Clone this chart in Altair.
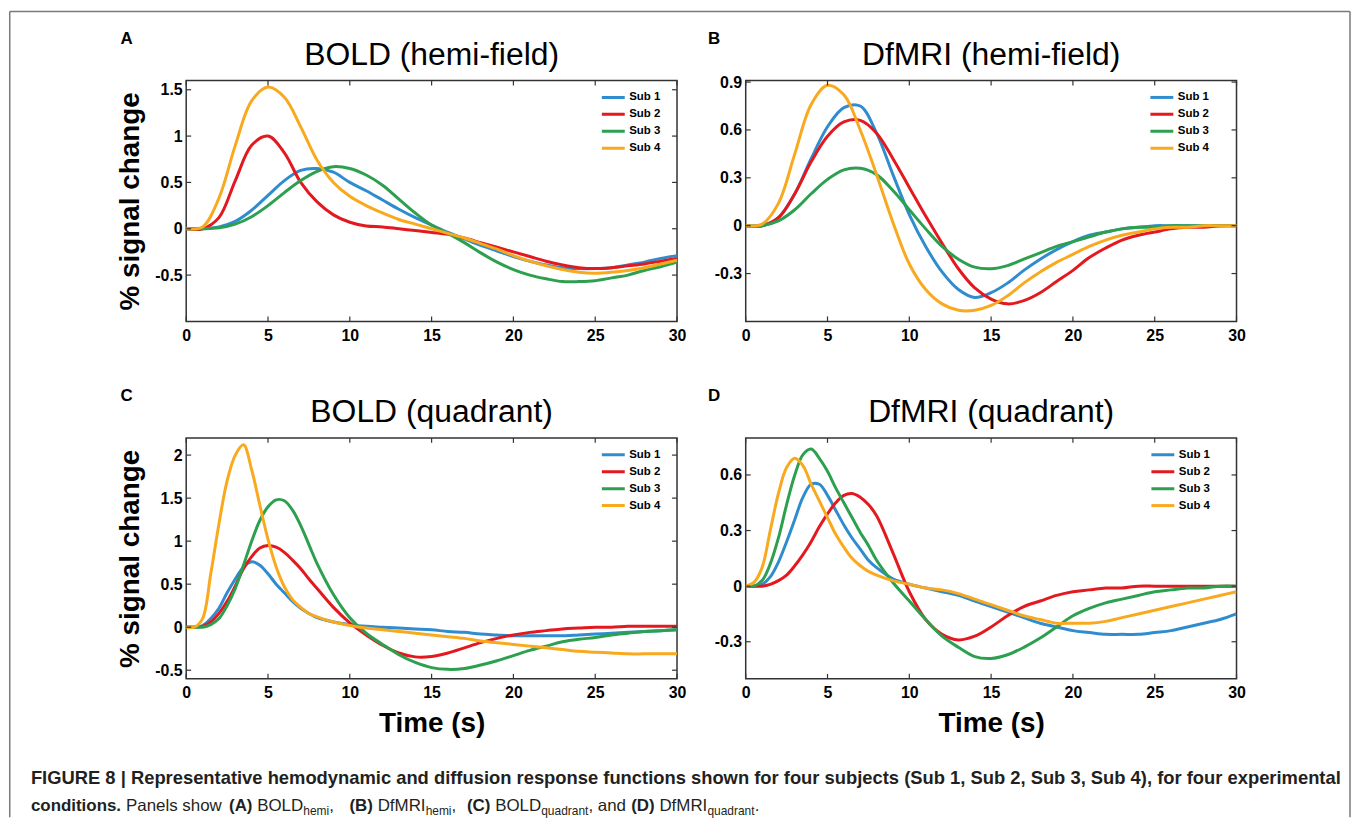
import altair as alt
import pandas as pd

# ---------------- data ----------------
SUBJECTS = ["Sub 1", "Sub 2", "Sub 3", "Sub 4"]
COLORS = ["#2f8ccf", "#e3191f", "#2ca04f", "#f9a91e"]

XTICKS = [0, 5, 10, 15, 20, 25, 30]

T_HEMI = list(range(0, 31))
T_QUAD = [0, 0.5, 1, 1.5, 2, 2.5, 3, 3.5, 4, 4.5, 5, 5.5, 6, 6.5, 7, 7.5, 8] + list(range(9, 31))

BOLD_HEMI_S1 = [0, 0, 0.02, 0.08, 0.2, 0.36, 0.52, 0.63, 0.65, 0.61, 0.5, 0.41, 0.31, 0.21, 0.12, 0.04,
                -0.04, -0.11, -0.18, -0.24, -0.3, -0.35, -0.39, -0.42, -0.43, -0.43, -0.42, -0.39, -0.36, -0.32, -0.29]
BOLD_HEMI_S2 = [0, 0, 0.12, 0.52, 0.9, 1.0, 0.82, 0.5, 0.29, 0.15, 0.07, 0.03, 0.02, 0.0, -0.02, -0.04,
                -0.06, -0.1, -0.15, -0.2, -0.25, -0.3, -0.35, -0.39, -0.42, -0.43, -0.42, -0.4, -0.38, -0.35, -0.32]
BOLD_HEMI_S3 = [0, 0, 0.01, 0.05, 0.13, 0.25, 0.39, 0.52, 0.62, 0.67, 0.65, 0.58, 0.47, 0.32, 0.17, 0.04,
                -0.05, -0.15, -0.26, -0.36, -0.44, -0.5, -0.54, -0.57, -0.57, -0.56, -0.53, -0.5, -0.45, -0.41, -0.36]
BOLD_HEMI_S4 = [0, 0.02, 0.33, 0.9, 1.38, 1.53, 1.42, 1.1, 0.74, 0.5, 0.35, 0.25, 0.17, 0.1, 0.05, 0.0,
                -0.05, -0.1, -0.16, -0.22, -0.29, -0.35, -0.4, -0.44, -0.47, -0.48, -0.47, -0.45, -0.42, -0.38, -0.34]

DFMRI_HEMI_S1 = [0, 0, 0.05, 0.2, 0.42, 0.62, 0.74, 0.75, 0.58, 0.32, 0.07, -0.13, -0.29, -0.4, -0.45, -0.42,
                 -0.36, -0.28, -0.21, -0.15, -0.1, -0.06, -0.04, -0.02, -0.01, 0, 0, 0, 0, 0, 0]
DFMRI_HEMI_S2 = [0, 0, 0.05, 0.2, 0.4, 0.56, 0.65, 0.66, 0.58, 0.42, 0.24, 0.06, -0.11, -0.27, -0.39, -0.46,
                 -0.49, -0.47, -0.42, -0.35, -0.28, -0.2, -0.14, -0.09, -0.06, -0.04, -0.02, -0.01, -0.01, 0, 0]
DFMRI_HEMI_S3 = [0, 0, 0.03, 0.1, 0.2, 0.29, 0.35, 0.36, 0.32, 0.22, 0.1, -0.02, -0.13, -0.21, -0.26, -0.27,
                 -0.25, -0.21, -0.17, -0.13, -0.1, -0.07, -0.04, -0.02, -0.01, -0.01, 0, 0, 0, 0, 0]
DFMRI_HEMI_S4 = [0, 0.01, 0.14, 0.45, 0.76, 0.88, 0.82, 0.6, 0.32, 0.02, -0.24, -0.4, -0.49, -0.53, -0.53, -0.5,
                 -0.44, -0.36, -0.29, -0.23, -0.18, -0.13, -0.09, -0.06, -0.04, -0.02, -0.01, -0.01, 0, 0, 0]

BOLD_QUAD_S1 = [0, 0, 0.02, 0.1, 0.22, 0.4, 0.56, 0.7, 0.76, 0.72, 0.62, 0.5, 0.4, 0.3, 0.22, 0.16, 0.11,
                0.06, 0.03, 0.01, 0.0, -0.01, -0.02, -0.03, -0.05, -0.06, -0.08, -0.09, -0.1, -0.1, -0.1, -0.1,
                -0.09, -0.08, -0.07, -0.06, -0.05, -0.04, -0.03]
BOLD_QUAD_S2 = [0, 0, 0.01, 0.06, 0.16, 0.3, 0.48, 0.68, 0.82, 0.92, 0.95, 0.93, 0.87, 0.78, 0.68, 0.56, 0.45,
                0.23, 0.05, -0.09, -0.21, -0.3, -0.345, -0.34, -0.3, -0.24, -0.18, -0.13, -0.09, -0.06, -0.04,
                -0.02, -0.01, 0, 0, 0.01, 0.01, 0.01, 0.01]
BOLD_QUAD_S3 = [0, 0, 0, 0.03, 0.1, 0.25, 0.45, 0.72, 1.0, 1.24, 1.4, 1.48, 1.47, 1.36, 1.18, 0.96, 0.74,
                0.38, 0.11, -0.07, -0.2, -0.32, -0.41, -0.47, -0.49, -0.48, -0.44, -0.39, -0.33, -0.27, -0.22,
                -0.17, -0.14, -0.12, -0.09, -0.07, -0.05, -0.04, -0.03]
BOLD_QUAD_S4 = [0, 0, 0.1, 0.62, 1.2, 1.7, 2.0, 2.12, 1.83, 1.42, 1.02, 0.7, 0.47, 0.32, 0.23, 0.16, 0.12,
                0.06, 0.02, -0.01, -0.03, -0.05, -0.07, -0.09, -0.11, -0.13, -0.16, -0.18, -0.2, -0.22, -0.24,
                -0.26, -0.28, -0.29, -0.3, -0.31, -0.31, -0.31, -0.31]

DFMRI_QUAD_S1 = [0, 0, 0.01, 0.05, 0.13, 0.24, 0.36, 0.48, 0.55, 0.55, 0.49, 0.41, 0.33, 0.26, 0.2, 0.14, 0.1,
                 0.04, 0.01, -0.01, -0.03, -0.05, -0.08, -0.11, -0.14, -0.17, -0.2, -0.22, -0.24, -0.25, -0.26,
                 -0.26, -0.26, -0.25, -0.24, -0.22, -0.2, -0.18, -0.15]
DFMRI_QUAD_S2 = [0, 0, 0, 0.01, 0.03, 0.06, 0.11, 0.17, 0.24, 0.32, 0.39, 0.45, 0.49, 0.5, 0.48, 0.44, 0.38,
                 0.18, -0.03, -0.18, -0.26, -0.29, -0.27, -0.22, -0.16, -0.11, -0.08, -0.05, -0.03, -0.02, -0.01,
                 -0.01, 0, 0, 0, 0, 0, 0, 0]
DFMRI_QUAD_S3 = [0, 0, 0.03, 0.12, 0.26, 0.44, 0.6, 0.71, 0.74, 0.69, 0.62, 0.53, 0.45, 0.37, 0.29, 0.22, 0.14,
                 0.02, -0.08, -0.18, -0.27, -0.33, -0.38, -0.39, -0.37, -0.33, -0.28, -0.22, -0.16, -0.12, -0.09,
                 -0.07, -0.05, -0.03, -0.02, -0.01, -0.01, 0, 0]
DFMRI_QUAD_S4 = [0, 0.02, 0.1, 0.3, 0.5, 0.64, 0.69, 0.65, 0.55, 0.46, 0.37, 0.28, 0.21, 0.15, 0.11, 0.08, 0.06,
                 0.03, 0.01, -0.01, -0.02, -0.04, -0.07, -0.1, -0.13, -0.16, -0.18, -0.2, -0.2, -0.2, -0.19,
                 -0.17, -0.15, -0.13, -0.11, -0.09, -0.07, -0.05, -0.03]

YTICKS_A = [-0.5, 0, 0.5, 1, 1.5]
YTICKS_B = [-0.3, 0, 0.3, 0.6, 0.9]
YTICKS_C = [-0.5, 0, 0.5, 1, 1.5, 2]
YTICKS_D = [-0.3, 0, 0.3, 0.6]

# ---------------- styling ----------------
FONT = "Liberation Sans"
AXIS_COLOR = "#333333"
W, H = 493, 242


def long_df(times, series):
    rows = []
    for name, vals in zip(SUBJECTS, series):
        for t, v in zip(times, vals):
            rows.append({"t": t, "v": v, "subject": name})
    return pd.DataFrame(rows)


def text_layer(txt, x, y, size, weight="normal", align="left", color="#000000"):
    return alt.Chart(pd.DataFrame({"s": [txt]})).mark_text(
        font=FONT, fontSize=size, fontWeight=weight, align=align, baseline="alphabetic", color=color
    ).encode(text="s:N", x=alt.value(x), y=alt.value(y))


def panel(title, letter, times, series, ydomain, yticks, show_ytitle, show_xtitle, legend_x, extra_layers=()):
    df = long_df(times, series)

    xaxis_kw = dict(values=XTICKS, domain=False, ticks=False, tickSize=0, grid=False,
                    labelFont=FONT, labelFontSize=16, labelFontWeight="bold", labelColor="#000000",
                    labelPadding=6, labelFlush=False, labelOverlap=False, labelExpr="datum.value + ''")
    if show_xtitle:
        xaxis_kw.update(title="Time (s)", titleFont=FONT, titleFontSize=28, titleFontWeight="bold",
                        titleColor="#000000", titleY=53, titleBaseline="alphabetic")
    else:
        xaxis_kw.update(title=None)

    yaxis_kw = dict(values=yticks, domain=False, ticks=False, tickSize=0, grid=False,
                    labelFont=FONT, labelFontSize=16, labelFontWeight="bold", labelColor="#000000",
                    labelPadding=4, labelFlush=False, labelOverlap=False, labelExpr="datum.value + ''")
    if show_ytitle:
        yaxis_kw.update(title="% signal change", titleFont=FONT, titleFontSize=28, titleFontWeight="bold",
                        titleColor="#000000", titleAngle=270, titleX=-48, titleY=H / 2,
                        titleBaseline="alphabetic", titleAlign="center")
    else:
        yaxis_kw.update(title=None)

    x_enc = alt.X("t:Q", scale=alt.Scale(domain=[0, 30], nice=False, zero=False), axis=alt.Axis(**xaxis_kw))
    y_enc = alt.Y("v:Q", scale=alt.Scale(domain=ydomain, nice=False, zero=False), axis=alt.Axis(**yaxis_kw))

    lines = alt.Chart(df).mark_line(strokeWidth=3, interpolate="catmull-rom", clip=True).encode(
        x=x_enc,
        y=y_enc,
        color=alt.Color(
            "subject:N",
            scale=alt.Scale(domain=SUBJECTS, range=COLORS),
            legend=alt.Legend(title=None, orient="none", legendX=legend_x, legendY=10.5,
                              symbolType="stroke", symbolStrokeWidth=3, symbolSize=529,
                              labelFont=FONT, labelFontSize=11.5, labelFontWeight="bold",
                              labelColor="#000000", labelOffset=3, rowPadding=4, padding=0,
                              clipHeight=13, symbolOffset=0),
        ),
    )

    xt = pd.DataFrame({"t": XTICKS})
    yt = pd.DataFrame({"v": yticks})
    tick_style = dict(color=AXIS_COLOR, strokeWidth=1.2)
    bottom_ticks = alt.Chart(xt).mark_rule(**tick_style).encode(x=x_enc, y=alt.value(H), y2=alt.value(H - 5))
    top_ticks = alt.Chart(xt).mark_rule(**tick_style).encode(x=x_enc, y=alt.value(0), y2=alt.value(5))
    left_ticks = alt.Chart(yt).mark_rule(**tick_style).encode(y=y_enc, x=alt.value(0), x2=alt.value(5))
    right_ticks = alt.Chart(yt).mark_rule(**tick_style).encode(y=y_enc, x=alt.value(W), x2=alt.value(W - 5))

    letter_mark = text_layer(letter, -66 if letter in "AC" else -38, -37, 17, "bold")
    title_mark = text_layer(title, W / 2, -16, 32, "normal", "center")

    layers = [lines, bottom_ticks, top_ticks, left_ticks, right_ticks, letter_mark, title_mark] + list(extra_layers)
    return alt.layer(*layers).properties(width=W, height=H)


# ---------------- figure frame (drawn in panel A coordinates) ----------------
one = pd.DataFrame({"k": [0]})
FRAME_COLOR = "#7a7a7a"
frame_left = alt.Chart(one).mark_rule(color=FRAME_COLOR, strokeWidth=1.5).encode(
    x=alt.value(-177.25), y=alt.value(-69.25), y2=alt.value(740))
frame_top = alt.Chart(one).mark_rule(color=FRAME_COLOR, strokeWidth=1.5).encode(
    x=alt.value(-177.25), x2=alt.value(1169), y=alt.value(-69.25))
frame_right = alt.Chart(one).mark_rule(color=FRAME_COLOR, strokeWidth=1.5).encode(
    x=alt.value(1169), y=alt.value(-69.25), y2=alt.value(740))

# ---------------- caption (drawn in panel C coordinates: origin page (186, 437)) ----------------
CAP_COLOR = "#231f20"
OX, OY = 186, 437
LINE1 = ("FIGURE 8 | Representative hemodynamic and diffusion response functions shown for four "
         "subjects (Sub 1, Sub 2, Sub 3, Sub 4), for four experimental")
LINE1_Y, LINE2_Y = 785, 812
LINE2_PARTS = [
    ("conditions.", 30, "bold", False),
    ("Panels show", 125.5, "normal", False),
    ("(A)", 229, "bold", False),
    ("BOLD", 257.3, "normal", False),
    ("hemi", 303.6, "normal", True),
    (",", 329.6, "normal", False),
    ("(B)", 350, "bold", False),
    ("DfMRI", 378.3, "normal", False),
    ("hemi", 426.5, "normal", True),
    (",", 452.5, "normal", False),
    ("(C)", 468, "bold", False),
    ("BOLD", 496.3, "normal", False),
    ("quadrant", 542.6, "normal", True),
    (", and", 590, "normal", False),
    ("(D)", 633, "bold", False),
    ("DfMRI", 661.3, "normal", False),
    ("quadrant", 709.5, "normal", True),
    (".", 757, "normal", False),
]

caption_layers = [text_layer(LINE1, 30 - OX, LINE1_Y - OY, 18.45, "bold", color=CAP_COLOR)]
for txt, px, weight, sub in LINE2_PARTS:
    caption_layers.append(
        text_layer(txt, px - OX, LINE2_Y - OY + (4 if sub else 0), 12 if sub else 17, weight, color=CAP_COLOR)
    )

pA = panel("BOLD (hemi-field)", "A", T_HEMI, [BOLD_HEMI_S1, BOLD_HEMI_S2, BOLD_HEMI_S3, BOLD_HEMI_S4],
           [-1.0, 1.6], YTICKS_A, True, False, 416, [frame_left, frame_top, frame_right])
pB = panel("DfMRI (hemi-field)", "B", T_HEMI, [DFMRI_HEMI_S1, DFMRI_HEMI_S2, DFMRI_HEMI_S3, DFMRI_HEMI_S4],
           [-0.6, 0.91], YTICKS_B, False, False, 405)
pC = panel("BOLD (quadrant)", "C", T_QUAD, [BOLD_QUAD_S1, BOLD_QUAD_S2, BOLD_QUAD_S3, BOLD_QUAD_S4],
           [-0.6, 2.2], YTICKS_C, True, True, 416, caption_layers)
pD = panel("DfMRI (quadrant)", "D", T_QUAD, [DFMRI_QUAD_S1, DFMRI_QUAD_S2, DFMRI_QUAD_S3, DFMRI_QUAD_S4],
           [-0.5, 0.8], YTICKS_D, False, True, 406)

chart = alt.ConcatChart(
    concat=[pA, pB, pC, pD], columns=2, spacing={"row": 117, "column": 69}, bounds="flush",
    padding=0, background="white",
).resolve_scale(color="independent").resolve_legend(color="independent").configure_view(
    stroke=AXIS_COLOR, strokeWidth=1.5
)

chart.save("out.html", embed_options={"renderer": "svg", "actions": False})
